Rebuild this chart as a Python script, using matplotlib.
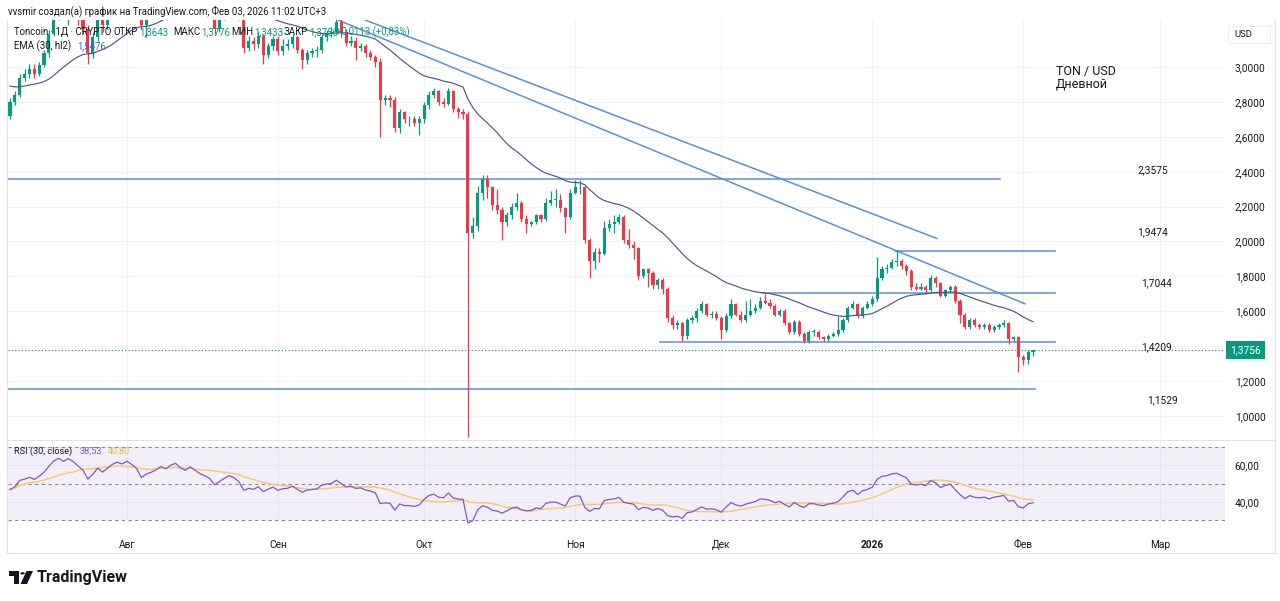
import numpy as np
import pandas as pd
import matplotlib
matplotlib.use('Agg')
import matplotlib.pyplot as plt
import matplotlib.transforms as mtransforms
from matplotlib.patches import Rectangle, Polygon, Circle
from matplotlib.lines import Line2D

plt.rcParams['font.family'] = ['Roboto', 'DejaVu Sans']

# -------------------------------------------------
# Data: TON / USD daily candles, 2025-07-08 .. 2026-02-03
# -------------------------------------------------
first_open = 2.72

closes = [
    2.80, 2.84, 2.94, 2.96, 2.99, 2.96, 3.01, 3.08, 3.19, 3.30,
    3.36, 3.32, 3.38, 3.34, 3.28, 3.22, 3.08, 3.17, 3.31, 3.24,
    3.33, 3.42, 3.48, 3.45, 3.52, 3.47, 3.40, 3.24, 3.32, 3.36,
    3.42, 3.50, 3.46, 3.55, 3.60, 3.52, 3.48, 3.56, 3.50, 3.44,
    3.40, 3.35, 3.22, 3.29, 3.36, 3.42, 3.38, 3.30, 3.11, 3.15,
    3.13, 3.18, 3.07, 3.12, 3.16, 3.09, 3.12, 3.13, 3.17, 3.10,
    3.04, 3.08, 3.09, 3.10, 3.17, 3.19, 3.20, 3.26, 3.20, 3.14,
    3.15, 3.11, 3.12, 3.08, 3.06, 3.03, 2.81, 2.82, 2.81, 2.65,
    2.74, 2.70, 2.70, 2.68, 2.70, 2.78, 2.84, 2.86, 2.80, 2.79,
    2.86, 2.76, 2.74, 2.73, 2.05, 2.09, 2.28, 2.36, 2.31, 2.21,
    2.18, 2.11, 2.15, 2.20, 2.22, 2.13, 2.10, 2.11, 2.15, 2.13,
    2.22, 2.24, 2.24, 2.19, 2.14, 2.28, 2.31, 2.31, 2.01, 1.89,
    1.94, 1.93, 2.08, 2.10, 2.11, 2.14, 2.01, 1.98, 1.96, 1.80,
    1.84, 1.82, 1.75, 1.78, 1.73, 1.56, 1.52, 1.53, 1.46, 1.55,
    1.56, 1.60, 1.64, 1.58, 1.585, 1.56, 1.49, 1.57, 1.64, 1.58,
    1.55, 1.58, 1.60, 1.62, 1.66, 1.65, 1.63, 1.58, 1.60, 1.53,
    1.48, 1.54, 1.47, 1.43, 1.48, 1.48, 1.45, 1.44, 1.46, 1.47,
    1.49, 1.55, 1.62, 1.64, 1.57, 1.62, 1.64, 1.67, 1.79, 1.84,
    1.85, 1.88, 1.89, 1.86, 1.83, 1.74, 1.73, 1.74, 1.72, 1.79,
    1.76, 1.69, 1.72, 1.74, 1.66, 1.58, 1.51, 1.55, 1.52, 1.51,
    1.52, 1.49, 1.51, 1.52, 1.53, 1.44, 1.45, 1.34, 1.32, 1.3643,
    1.3756,
]

highs = [
    2.82, 2.86, 2.96, 2.99, 3.02, 3.02, 3.03, 3.10, 3.21, 3.33,
    3.40, 3.39, 3.42, 3.41, 3.37, 3.31, 3.24, 3.20, 3.34, 3.33,
    3.36, 3.45, 3.52, 3.50, 3.56, 3.55, 3.49, 3.42, 3.35, 3.39,
    3.45, 3.54, 3.53, 3.58, 3.65, 3.62, 3.55, 3.59, 3.58, 3.52,
    3.47, 3.42, 3.37, 3.32, 3.39, 3.45, 3.44, 3.40, 3.33, 3.18,
    3.17, 3.20, 3.19, 3.14, 3.18, 3.18, 3.16, 3.16, 3.19, 3.18,
    3.11, 3.10, 3.11, 3.12, 3.19, 3.21, 3.23, 3.29, 3.28, 3.22,
    3.18, 3.17, 3.14, 3.13, 3.10, 3.07, 3.05, 2.84, 2.84, 2.83,
    2.76, 2.75, 2.72, 2.72, 2.72, 2.80, 2.86, 2.88, 2.87, 2.82,
    2.88, 2.87, 2.77, 2.76, 2.75, 2.14, 2.32, 2.38, 2.38, 2.32,
    2.30, 2.20, 2.17, 2.22, 2.28, 2.23, 2.15, 2.12, 2.16, 2.16,
    2.25, 2.29, 2.30, 2.27, 2.20, 2.30, 2.35, 2.35, 2.32, 2.02,
    1.96, 1.96, 2.12, 2.13, 2.15, 2.16, 2.15, 2.07, 2.00, 1.97,
    1.85, 1.85, 1.83, 1.79, 1.79, 1.74, 1.58, 1.55, 1.54, 1.56,
    1.58, 1.62, 1.66, 1.65, 1.60, 1.60, 1.57, 1.59, 1.67, 1.65,
    1.60, 1.66, 1.67, 1.64, 1.68, 1.70, 1.67, 1.64, 1.61, 1.61,
    1.54, 1.55, 1.55, 1.48, 1.49, 1.50, 1.49, 1.46, 1.47, 1.48,
    1.57, 1.56, 1.63, 1.66, 1.65, 1.63, 1.66, 1.69, 1.91, 1.86,
    1.87, 1.90, 1.95, 1.90, 1.87, 1.84, 1.76, 1.76, 1.75, 1.81,
    1.80, 1.77, 1.73, 1.75, 1.75, 1.67, 1.59, 1.56, 1.56, 1.53,
    1.53, 1.53, 1.52, 1.53, 1.55, 1.54, 1.46, 1.46, 1.35, 1.38,
    1.3776,
]

lows = [
    2.70, 2.78, 2.83, 2.92, 2.94, 2.94, 2.95, 3.00, 3.06, 3.18,
    3.27, 3.28, 3.24, 3.30, 3.24, 3.19, 3.02, 3.05, 3.15, 3.20,
    3.22, 3.31, 3.40, 3.41, 3.43, 3.44, 3.36, 3.22, 3.17, 3.29,
    3.34, 3.40, 3.42, 3.44, 3.52, 3.49, 3.44, 3.46, 3.47, 3.40,
    3.36, 3.31, 3.19, 3.20, 3.27, 3.34, 3.35, 3.27, 3.08, 3.09,
    3.10, 3.11, 3.02, 3.05, 3.10, 3.07, 3.07, 3.10, 3.11, 3.08,
    2.99, 3.02, 3.06, 3.06, 3.08, 3.15, 3.17, 3.19, 3.17, 3.12,
    3.12, 3.04, 3.09, 3.06, 3.04, 3.00, 2.60, 2.78, 2.77, 2.63,
    2.62, 2.68, 2.66, 2.66, 2.61, 2.68, 2.76, 2.82, 2.78, 2.77,
    2.78, 2.74, 2.71, 2.70, 0.88, 2.02, 2.06, 2.24, 2.25, 2.18,
    2.16, 2.01, 2.09, 2.13, 2.18, 2.11, 2.05, 2.09, 2.10, 2.11,
    2.12, 2.21, 2.20, 2.17, 2.05, 2.13, 2.27, 2.27, 1.99, 1.79,
    1.84, 1.88, 1.92, 2.06, 2.05, 2.10, 1.99, 1.96, 1.90, 1.78,
    1.79, 1.74, 1.73, 1.73, 1.70, 1.54, 1.50, 1.50, 1.43, 1.44,
    1.53, 1.54, 1.59, 1.57, 1.56, 1.55, 1.44, 1.48, 1.56, 1.57,
    1.54, 1.54, 1.57, 1.59, 1.61, 1.64, 1.62, 1.57, 1.57, 1.52,
    1.47, 1.47, 1.46, 1.42, 1.42, 1.46, 1.44, 1.43, 1.43, 1.45,
    1.46, 1.48, 1.54, 1.61, 1.56, 1.56, 1.61, 1.63, 1.66, 1.78,
    1.82, 1.84, 1.86, 1.84, 1.81, 1.72, 1.72, 1.72, 1.70, 1.71,
    1.74, 1.68, 1.68, 1.71, 1.65, 1.53, 1.50, 1.50, 1.51, 1.50,
    1.50, 1.48, 1.48, 1.50, 1.51, 1.41, 1.43, 1.25, 1.29, 1.30,
    1.3433,
]

# indicator state carried in from the history before the first candle
ema_seed = 2.90
rsi_seed_gain = 0.020
rsi_seed_loss = 0.026
EMA_LEN = 30
RSI_LEN = 30
RSI_MA_LEN = 14

# time axis (day index from 2025-07-08)
month_pos = [24, 55, 85, 116, 146, 177, 208, 236]
month_labels = ['Авг', 'Сен', 'Окт', 'Ноя', 'Дек', '2026', 'Фев', 'Мар']

price_ticks = [1.0, 1.2, 1.4, 1.6, 1.8, 2.0, 2.2, 2.4, 2.6, 2.8, 3.0]
rsi_ticks = [40, 60]
rsi_bands = [70, 50, 30]

# drawings: horizontal levels and trend lines
levels = [2.3575, 1.9474, 1.7044, 1.4209, 1.1529]
level_start = [-0.4, 181.7, 154.4, 133.4, -0.4]
level_end = [203.2, 214.5, 214.5, 214.5, 210.4]
level_label_x = [234.6, 234.6, 235.4, 235.4, 236.5]
level_label_dy = [9, 18, 10, -5, -11]

trend_x = [[72.9, 190.3], [67.3, 208.3]]
trend_y = [[3.27, 2.017], [3.27, 1.643]]

# legend texts of the indicators as shown on the chart
ema_legend_value = '1,5476'
rsi_legend_value = '38,53'
rsi_ma_legend_value = '40,80'

# -------------------------------------------------
# Colours
# -------------------------------------------------
GREEN = '#089981'
RED = '#F23645'
DARK = '#131722'
GRID = '#f0f3fa'
LINE_BLUE = '#5b8fd0'
EMA_COLOR = '#4a5690'
RSI_COLOR = '#7E57C2'
RSI_MA_COLOR = '#f3cb76'

W, H = 1280, 601


def fx(px):
    return px / W


def fy(py):
    return 1 - py / H


def comma(v, nd=4):
    return f'{v:.{nd}f}'.replace('.', ',')


# -------------------------------------------------
# Derived series
# -------------------------------------------------
c = np.array(closes)
h = np.array(highs)
l = np.array(lows)
o = np.array([first_open] + closes[:-1])
days = np.arange(len(c))

hl2 = (h + l) / 2
alpha = 2 / (EMA_LEN + 1)
ema = []
e = ema_seed
for v in hl2:
    e = alpha * v + (1 - alpha) * e
    ema.append(e)

rsi = []
g, lo_avg = rsi_seed_gain, rsi_seed_loss
prev = first_open
for v in c:
    d = v - prev
    g = (g * (RSI_LEN - 1) + max(d, 0)) / RSI_LEN
    lo_avg = (lo_avg * (RSI_LEN - 1) + max(-d, 0)) / RSI_LEN
    rsi.append(100 - 100 / (1 + g / lo_avg))
    prev = v
rsi_ma = pd.Series(rsi).rolling(RSI_MA_LEN, min_periods=1).mean()

# -------------------------------------------------
# Figure and panes
# -------------------------------------------------
fig = plt.figure(figsize=(12.8, 6.01), dpi=100)
fig.patch.set_facecolor('white')

ax = fig.add_axes([fx(8), fy(438), fx(1225) - fx(8), fy(20) - fy(438)])
rax = fig.add_axes([fx(8), fy(527), fx(1225) - fx(8), fy(441) - fy(527)])

XMIN, XMAX = -0.4, 249.4
ax.set_xlim(XMIN, XMAX)
ax.set_ylim(0.873, 3.27)
rax.set_xlim(XMIN, XMAX)
rax.set_ylim(26.2, 73.3)

for a in (ax, rax):
    for s in a.spines.values():
        s.set_visible(False)
    for m in month_pos:
        a.axvline(m, color=GRID, lw=0.8, zorder=0)

for p in price_ticks:
    ax.axhline(p, color=GRID, lw=0.8, zorder=0)

# -------------------------------------------------
# Candles
# -------------------------------------------------
colors = np.where(c >= o, GREEN, RED)
ax.vlines(days, l, h, colors=colors, lw=0.9, zorder=3)
body = np.maximum(np.abs(c - o), 0.004)
ax.bar(days, body, bottom=np.minimum(o, c), width=0.64, color=colors,
       linewidth=0, zorder=3)

ax.plot(days, ema, color=EMA_COLOR, lw=0.85, zorder=4)

# drawings
for lv, x0, x1 in zip(levels, level_start, level_end):
    ax.plot([x0, x1], [lv, lv], color=LINE_BLUE, lw=1.1, zorder=2)
for lv, lx, dy in zip(levels, level_label_x, level_label_dy):
    ax.annotate(comma(lv), xy=(lx, lv), xytext=(0, dy), textcoords='offset pixels',
                ha='center', va='center', fontsize=7.3, color=DARK)
for tx, ty in zip(trend_x, trend_y):
    ax.plot(tx, ty, color=LINE_BLUE, lw=1.1, zorder=2)

# current price line
ax.axhline(c[-1], color=GREEN, lw=0.8, ls=(0, (1, 2)), zorder=2)

# price scale
ax.yaxis.tick_right()
ax.set_yticks(price_ticks)
ax.set_yticklabels([comma(p) for p in price_ticks])
ax.tick_params(axis='y', length=0, pad=7, labelsize=7.3, labelcolor=DARK)
ax.set_xticks([])

# last price badge on the scale (covers the 1,4000 label, as on the chart)
trans = mtransforms.blended_transform_factory(fig.transFigure, ax.transData)
ax.text(fx(1245.5), c[-1], comma(c[-1]), transform=trans, ha='center', va='center',
        fontsize=7.3, color='white', zorder=10, clip_on=False,
        bbox=dict(boxstyle='square,pad=0.4', fc=GREEN, ec='none'))

# -------------------------------------------------
# RSI pane
# -------------------------------------------------
rax.axhspan(rsi_bands[-1], rsi_bands[0], color=RSI_COLOR, alpha=0.09, lw=0, zorder=0)
for t in rsi_ticks:
    rax.axhline(t, color='#e9e4f5', lw=0.7, zorder=0)
for b in rsi_bands:
    rax.axhline(b, color='#868993', lw=0.8, ls=(0, (3, 3)), zorder=1)
rax.plot(days, rsi_ma, color=RSI_MA_COLOR, lw=1.1, zorder=2)
rax.plot(days, rsi, color=RSI_COLOR, lw=0.9, zorder=3)

rax.yaxis.tick_right()
rax.set_yticks(rsi_ticks)
rax.set_yticklabels([comma(t, 2) for t in rsi_ticks])
rax.set_xticks(month_pos)
rax.set_xticklabels(month_labels)
rax.tick_params(axis='y', length=0, pad=7, labelsize=7.3, labelcolor=DARK)
rax.tick_params(axis='x', length=0, pad=9, labelsize=7.3, labelcolor=DARK)
for lbl in rax.get_xticklabels():
    if lbl.get_text() == '2026':
        lbl.set_fontweight('bold')

# -------------------------------------------------
# Frame and separators
# -------------------------------------------------
frame = '#e0e3eb'
fig.add_artist(Line2D([fx(7), fx(7)], [fy(20), fy(553)], color=frame, lw=0.8))
fig.add_artist(Line2D([fx(1275), fx(1275)], [fy(20), fy(553)], color=frame, lw=0.8))
fig.add_artist(Line2D([fx(7), fx(1275)], [fy(553), fy(553)], color=frame, lw=0.8))
fig.add_artist(Line2D([fx(7), fx(1275)], [fy(439.5), fy(439.5)], color=frame, lw=0.8))

# -------------------------------------------------
# Texts
# -------------------------------------------------
renderer = fig.canvas.get_renderer()


def text_row(py, items, size):
    # each item: (x in px or None to follow the previous text, text, colour)
    cur = 0
    for px, s, col in items:
        x = cur + 1.5 if px is None else px
        t = fig.text(fx(x), fy(py), s, fontsize=size, color=col, va='center')
        cur = t.get_window_extent(renderer).x1


fig.text(fx(8), fy(11), 'vvsmir создал(а) график на TradingView.com, Фев 03, 2026 11:02 UTC+3',
         fontsize=6.9, color=DARK, va='center')

change = c[-1] - c[-2]
pct = change / c[-2] * 100
text_row(32, [
    (14, 'Toncoin · 1Д · CRYPTO', DARK),
    (114, 'ОТКР', DARK), (None, comma(o[-1]), GREEN),
    (173, 'МАКС', DARK), (None, comma(h[-1]), GREEN),
    (231, 'МИН', DARK), (None, comma(l[-1]), GREEN),
    (284, 'ЗАКР', DARK), (None, comma(c[-1]), GREEN),
    (336, f'+{comma(change)} (+{comma(pct, 2)}%)', GREEN),
], 6.9)
text_row(46, [(14, 'EMA (30, hl2)', DARK), (77, ema_legend_value, '#4a5fc1')], 6.9)
text_row(451, [(14, 'RSI (30, close)', DARK), (80, rsi_legend_value, RSI_COLOR),
               (108, rsi_ma_legend_value, '#e8b931')], 6.6)

fig.text(fx(1056), fy(72), 'TON / USD', fontsize=9, color=DARK, va='center')
fig.text(fx(1056), fy(84), 'Дневной', fontsize=9, color=DARK, va='center')

fig.add_artist(Rectangle((fx(1228), fy(43)), fx(42), 17 / H, transform=fig.transFigure,
                         facecolor='white', edgecolor='#eceef2', lw=0.8))
fig.text(fx(1243), fy(34.5), 'USD', fontsize=6.8, color=DARK, va='center', ha='center')

# TradingView logo
logo = '#131722'
fig.add_artist(Polygon([(fx(9), fy(571)), (fx(19), fy(571)), (fx(19), fy(584)),
                        (fx(14), fy(584)), (fx(14), fy(575.5)), (fx(9), fy(575.5))],
                       closed=True, transform=fig.transFigure, facecolor=logo, edgecolor='none'))
fig.add_artist(Circle((fx(22.5), fy(573.3)), 2.3 / W, transform=fig.transFigure,
                      facecolor=logo, edgecolor='none'))
fig.add_artist(Polygon([(fx(26.5), fy(571)), (fx(33), fy(571)), (fx(27), fy(584)),
                        (fx(20.5), fy(584))],
                       closed=True, transform=fig.transFigure, facecolor=logo, edgecolor='none'))
fig.text(fx(37), fy(577.5), 'TradingView', fontsize=11.5, fontweight='bold', color=logo,
         va='center')

fig.savefig('out.png', dpi=100, facecolor='white')
